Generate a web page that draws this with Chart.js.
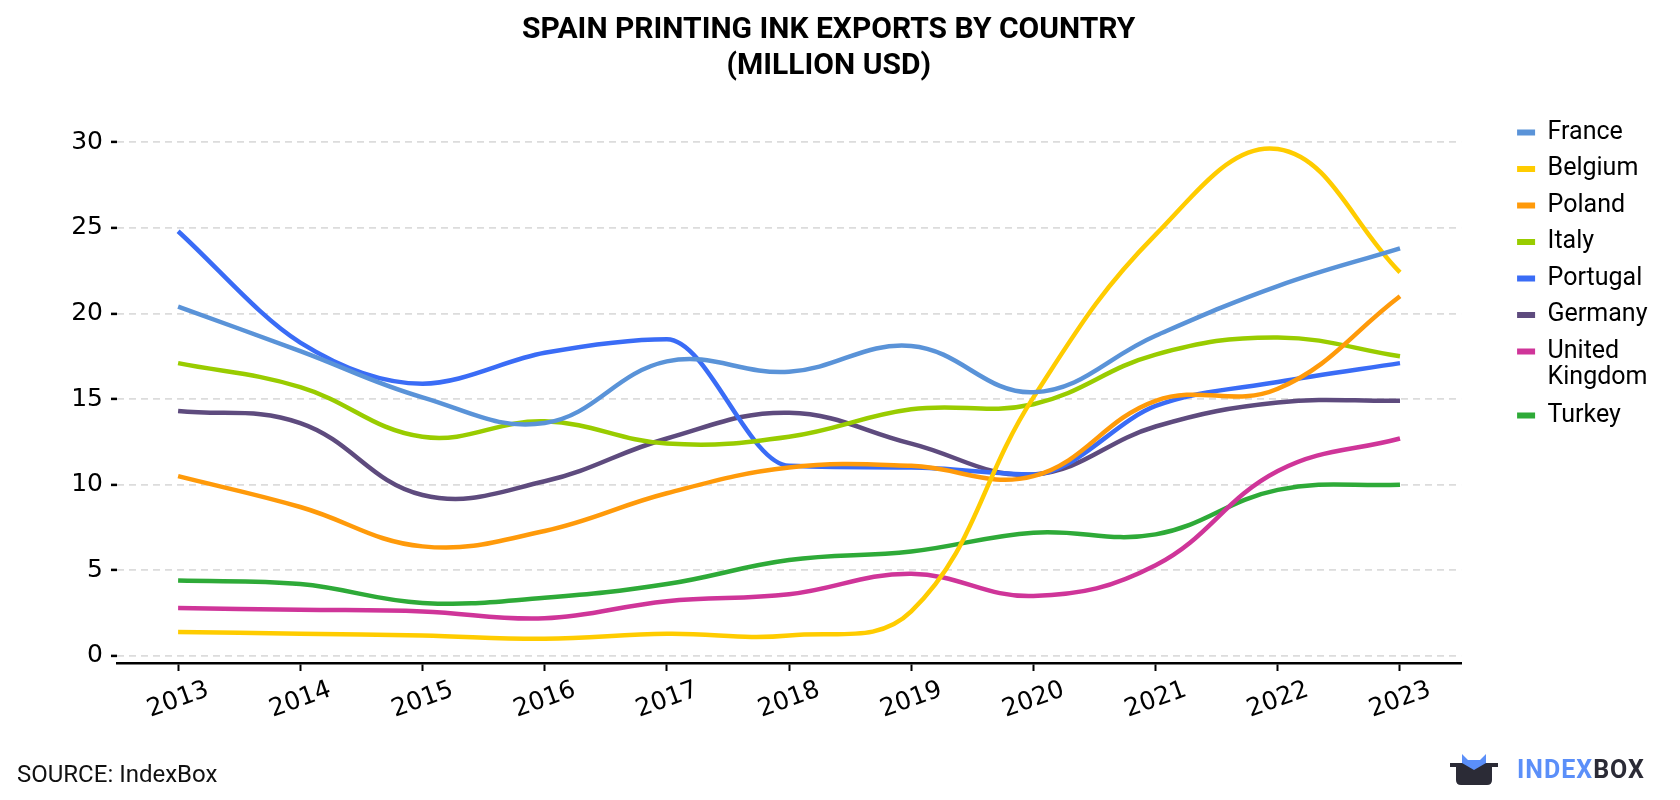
<!DOCTYPE html>
<html>
<head>
<meta charset="utf-8">
<script src="https://cdn.jsdelivr.net/npm/chart.js@4.4.1/dist/chart.umd.min.js"></script>
<style>
  html, body { margin: 0; padding: 0; background: #fff; }
  #wrap { position: relative; width: 1680px; height: 800px; }
  #source { position: absolute; left: 17px; top: 760px; font: 24px Roboto, sans-serif; color: #111; }
  #logo { position: absolute; left: 1450px; top: 752px; display: flex; align-items: center; }
  #logo span { font: bold 25px Roboto, sans-serif; letter-spacing: 1px; }
</style>
</head>
<body>
<div id="wrap">
  <canvas id="chart" width="1680" height="800"></canvas>
  <div id="source">SOURCE: IndexBox</div>
  <div id="logo">
    <svg width="50" height="34" viewBox="0 0 50 34">
      <path d="M12 16 L12 2 L18 8 L30 8 L36 2 L36 16 Z" fill="#5b8ff9"/>
      <path d="M0 11 L48 11 L48 15 L42 15 L42 28 Q42 33 37 33 L11 33 Q6 33 6 28 L6 15 L0 15 Z" fill="#2b2b36"/>
      <path d="M12 11 L24 18 L36 11 Z" fill="#5b8ff9"/>
    </svg>
    <span style="margin-left:17px;color:#5b8ff9">INDEX</span><span style="color:#2b2b36">BOX</span>
  </div>
</div>
<script>
  const years = ['2013', '2014', '2015', '2016', '2017', '2018', '2019', '2020', '2021', '2022', '2023'];
  const yTicks = [0, 5, 10, 15, 20, 25, 30];

  const france = [20.4, 17.8, 15.1, 13.6, 17.2, 16.6, 18.1, 15.4, 18.7, 21.6, 23.8];
  const belgium = [1.4, 1.3, 1.2, 1.0, 1.3, 1.2, 2.6, 15.1, 24.6, 29.6, 22.4];
  const poland = [10.5, 8.7, 6.4, 7.3, 9.5, 11.0, 11.1, 10.5, 14.9, 15.6, 21.0];
  const italy = [17.1, 15.7, 12.8, 13.7, 12.4, 12.8, 14.4, 14.7, 17.6, 18.6, 17.5];
  const portugal = [24.8, 18.3, 15.9, 17.7, 18.5, 11.1, 11.0, 10.6, 14.6, 16.0, 17.1];
  const germany = [14.3, 13.6, 9.4, 10.2, 12.7, 14.2, 12.4, 10.6, 13.4, 14.8, 14.9];
  const unitedKingdom = [2.8, 2.7, 2.6, 2.2, 3.2, 3.6, 4.8, 3.5, 5.3, 10.8, 12.7];
  const turkey = [4.4, 4.2, 3.1, 3.4, 4.2, 5.6, 6.1, 7.2, 7.1, 9.7, 10.0];

  function serie(label, data, color, mode) {
    return {
      label: label,
      data: data,
      borderColor: color,
      backgroundColor: color,
      borderWidth: 4.5,
      pointRadius: 0,
      tension: 0.4,
      cubicInterpolationMode: mode || 'default',
      fill: false
    };
  }

  const ctx = document.getElementById('chart');

  new Chart(ctx, {
    type: 'line',
    data: {
      labels: years,
      datasets: [
        serie('France', france, '#5a93d8'),
        serie('Belgium', belgium, '#ffcc00'),
        serie('Poland', poland, '#ff9a0a'),
        serie('Italy', italy, '#99cc00'),
        serie('Portugal', portugal, '#3a6cf6', 'monotone'),
        serie('Germany', germany, '#5e4b7e'),
        serie(['United', 'Kingdom'], unitedKingdom, '#cf3599'),
        serie('Turkey', turkey, '#2eaa38')
      ]
    },
    options: {
      responsive: false,
      animation: false,
      devicePixelRatio: 1,
      layout: { padding: { left: 0, right: 22.5, top: 0, bottom: 0 } },
      plugins: {
        title: {
          display: true,
          text: ['SPAIN PRINTING INK EXPORTS BY COUNTRY', '(MILLION USD)'],
          color: '#000',
          font: { family: 'Roboto', size: 30, weight: 'bold', lineHeight: 1.18 },
          padding: { top: 13, bottom: 20.7 }
        },
        legend: {
          position: 'right',
          align: 'start',
          fullSize: false,
          title: { display: true, text: ' ', font: { size: 4, lineHeight: 1 }, padding: 0 },
          labels: {
            color: '#000',
            font: { family: 'Roboto', size: 25, lineHeight: 1.05 },
            boxWidth: 18,
            boxHeight: 6,
            padding: 11.5,
            generateLabels: function (chart) {
              return chart.data.datasets.map(function (ds, i) {
                return {
                  text: ds.label,
                  fillStyle: ds.borderColor,
                  strokeStyle: ds.borderColor,
                  fontColor: '#000',
                  lineWidth: 0,
                  datasetIndex: i,
                  hidden: false
                };
              });
            }
          }
        },
        tooltip: { enabled: false }
      },
      scales: {
        x: {
          offset: true,
          grid: { drawOnChartArea: false, drawTicks: true, tickLength: 8, tickColor: '#000', tickWidth: 2 },
          border: { color: '#000', width: 2.5 },
          ticks: {
            color: '#000',
            font: { family: 'DejaVu Sans', size: 25 },
            minRotation: 20,
            maxRotation: 20,
            labelOffset: 30,
            padding: 4
          },
          afterFit: function (scale) { scale.height = 137; }
        },
        y: {
          min: -0.41,
          max: 32.2,
          afterBuildTicks: function (scale) {
            scale.ticks = yTicks.map(function (v) { return { value: v }; });
          },
          grid: { color: '#dcdcdc', lineWidth: 1.8, drawTicks: true, tickLength: 6, tickColor: '#000', tickWidth: 2.5 },
          border: { display: false, dash: [7, 5] },
          ticks: {
            color: '#000',
            font: { family: 'DejaVu Sans', size: 25 },
            padding: 8
          },
          afterFit: function (scale) { scale.width = 117; }
        },
        spacer: {
          position: 'right',
          grid: { display: false },
          border: { display: false },
          ticks: { display: false },
          afterFit: function (scale) { scale.width = 44.5; }
        }
      }
    }
  });
</script>
</body>
</html>
